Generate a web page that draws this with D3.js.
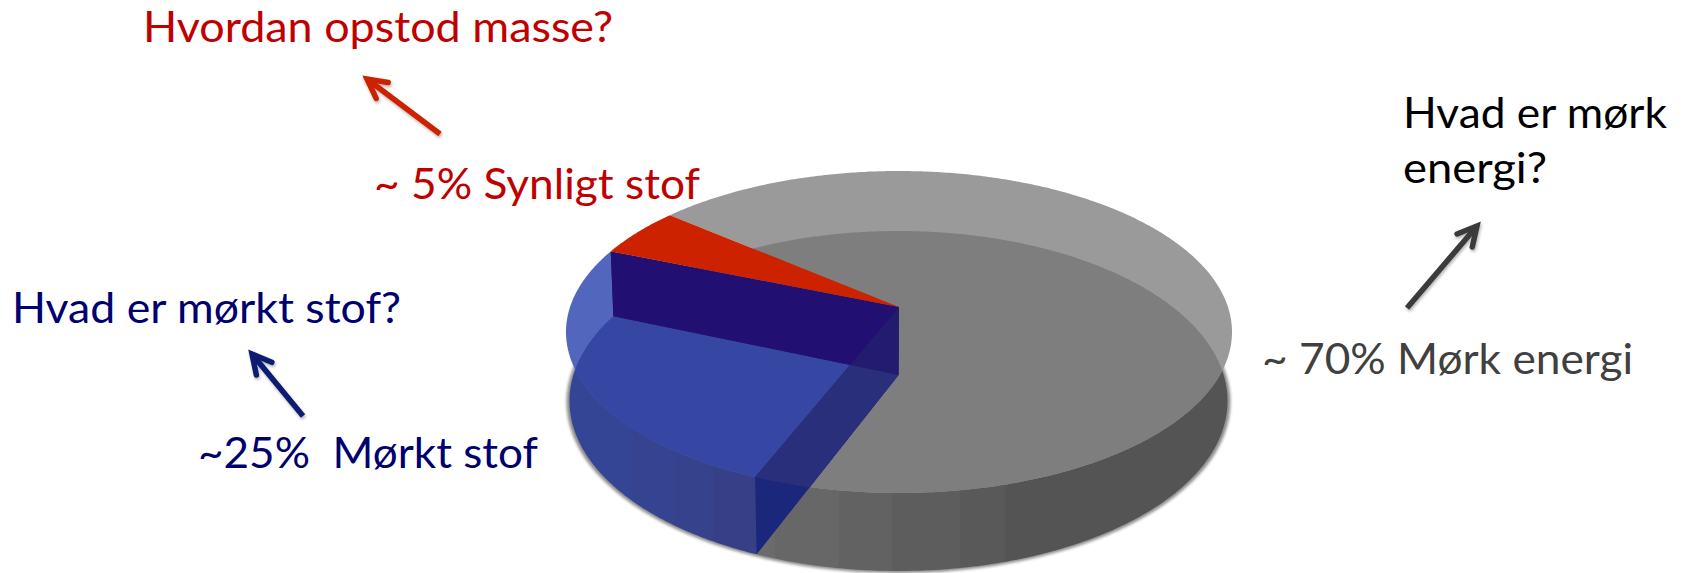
<!DOCTYPE html>
<html lang="da">
<head>
<meta charset="utf-8">
<title>Universets indhold</title>
<script src="https://cdn.jsdelivr.net/npm/d3@7/dist/d3.min.js"></script>
<style>
  html, body { margin: 0; padding: 0; background: #fff; overflow: hidden; }
  svg { display: block; }
  text { font-family: Lato, "Open Sans", sans-serif; }
</style>
</head>
<body>
<script>
// Data: share of the universe's content, in percent
const components = ["Mørkt stof", "Synligt stof", "Mørk energi"];
const shares = [25, 5, 70];

// Captions: text, left edge, baseline, drawn width, colour
const captions = [
  ["Hvordan opstod masse?", 143, 42, 470, "#c00000"],
  ["~ 5% Synligt stof", 374, 199, 326, "#c00000"],
  ["Hvad er mørkt stof?", 12, 323, 389, "#00006e"],
  ["~25%  Mørkt stof", 198, 468, 340, "#00006e"],
  ["Hvad er mørk", 1403, 128, 264, "#000000"],
  ["energi?", 1403, 183, 144, "#000000"],
  ["~ 70% Mørk energi", 1262, 374, 371, "#404040"]
];

// Question arrows: from, to, colour
const arrows = [
  [[440, 134], [367, 79], "#cc2200"],
  [[303, 416], [252, 354], "#0a1a70"],
  [[1407, 308], [1477, 226], "#3a3a3a"]
];

const width = 1683, height = 573;
const svg = d3.select("body").append("svg").attr("width", width).attr("height", height);
const defs = svg.append("defs");

// Rims of the cylinder: top and bottom discs, seen in perspective.
// k shifts the projected disc centre away from the centre of the ellipse.
const topDisc = { cx: 899, cy: 332, rx: 333, ry: 161, k: -25 / 161 };
const baseDisc = { cx: 898.5, cy: 401, rx: 329, ry: 170, k: -26 / 170 };

function project(disc, angle) {
  const X = Math.sin(angle), Y = -Math.cos(angle);
  const w = 1 + disc.k * Y;
  const a = disc.rx * Math.sqrt(1 - disc.k * disc.k);
  return [disc.cx + a * X / w, disc.cy + disc.ry * (Y + disc.k) / w];
}
const centre = disc => [disc.cx, disc.cy + disc.ry * disc.k];

const toRad = d => d * Math.PI / 180;
const slices = d3.pie().sort(null).startAngle(toRad(202)).endAngle(toRad(562))(shares);
const [darkMatter, visible, darkEnergy] = slices;

const line = d3.line();
const rim = (disc, a0, a1) => {
  const n = Math.max(2, Math.ceil(Math.abs(a1 - a0) / 0.01));
  return d3.range(n + 1).map(i => project(disc, a0 + (a1 - a0) * i / n));
};
const wedge = (disc, s) => line([centre(disc), ...rim(disc, s.startAngle, s.endAngle)]) + "Z";
const wholeDisc = disc => line(rim(disc, 0, 2 * Math.PI)) + "Z";

function clip(id, d) {
  defs.append("clipPath").attr("id", id).append("path").attr("d", d);
  return `url(#${id})`;
}

// Stepped horizontal shading on the curved side wall
function bands(id, stops) {
  const g = defs.append("linearGradient").attr("id", id)
    .attr("gradientUnits", "userSpaceOnUse")
    .attr("x1", 0).attr("x2", width).attr("y1", 0).attr("y2", 0);
  stops.forEach(([x0, x1, c]) => {
    g.append("stop").attr("offset", x0 / width).attr("stop-color", c);
    g.append("stop").attr("offset", x1 / width).attr("stop-color", c);
  });
  return `url(#${id})`;
}
const graySide = bands("graySide", [
  [0, 775, "#6b6b6b"], [775, 839, "#676767"], [839, 892, "#626262"],
  [892, 960, "#5d5d5d"], [960, 1005, "#595959"], [1005, width, "#545454"]
]);
const blueSide = bands("blueSide", [
  [0, 633, "#354595"], [633, 675, "#354391"], [675, 713, "#36428c"], [713, width, "#374087"]
]);

const soft = defs.append("filter").attr("id", "soft")
  .attr("x", "-5%").attr("y", "-5%").attr("width", "110%").attr("height", "110%");
soft.append("feGaussianBlur").attr("stdDeviation", 1.6);

const lifted = defs.append("filter").attr("id", "lifted")
  .attr("x", "-30%").attr("y", "-30%").attr("width", "160%").attr("height", "160%");
lifted.append("feDropShadow").attr("dx", 1).attr("dy", 2).attr("stdDeviation", 1.5)
  .attr("flood-color", "#000").attr("flood-opacity", 0.3);

const pie = svg.append("g");

// Soft shadow under the cylinder
pie.append("ellipse")
  .attr("cx", baseDisc.cx).attr("cy", baseDisc.cy + 1)
  .attr("rx", baseDisc.rx + 3).attr("ry", baseDisc.ry + 1)
  .attr("fill", "#000").attr("opacity", 0.45).attr("filter", "url(#soft)");

// Dark energy: side wall, top face, and the see-through floor inside the top face
pie.append("path").attr("d", wedge(baseDisc, darkEnergy)).attr("fill", graySide);
pie.append("path").attr("d", wedge(topDisc, darkEnergy)).attr("fill", "#9a9a9a");
pie.append("path").attr("d", wholeDisc(baseDisc)).attr("fill", "#7e7e7e")
  .attr("clip-path", clip("energyTop", wedge(topDisc, darkEnergy)));

// Dark matter: outer shell, top face and the overlap with the floor
const blueTop = wedge(topDisc, darkMatter);
const blueBase = wedge(baseDisc, darkMatter);
const blueTopClip = clip("blueTop", blueTop);
pie.append("path").attr("d", blueBase).attr("fill", blueSide);
pie.append("path").attr("d", blueTop).attr("fill", "#5366bd");
pie.append("path").attr("d", blueBase).attr("fill", "#3547a3").attr("clip-path", blueTopClip);

// Cut wall on the near edge of the dark matter slice
const T = centre(topDisc), B = centre(baseDisc);
const nearWall = line([T, B, project(baseDisc, darkMatter.startAngle), project(topDisc, darkMatter.startAngle)]) + "Z";
pie.append("path").attr("d", nearWall).attr("fill", "#1b277a");
pie.append("path").attr("d", nearWall).attr("fill", "#2a2f7c")
  .attr("clip-path", clip("topEllipse", wholeDisc(topDisc)));

// Cut wall on the far edge of the slice
const farWall = line([T, project(topDisc, darkMatter.endAngle), project(baseDisc, darkMatter.endAngle), B]) + "Z";
pie.append("path").attr("d", farWall).attr("fill", "#221b6e");
pie.append("path").attr("d", farWall).attr("fill", "#220f72").attr("clip-path", blueTopClip);

// Visible matter: a thin red slice on top
pie.append("path").attr("d", wedge(topDisc, visible)).attr("fill", "#cc2200");

// Arrows from each share to its open question
arrows.forEach(([from, to, colour], i) => {
  const id = `head${i}`;
  defs.append("marker").attr("id", id)
    .attr("markerUnits", "userSpaceOnUse")
    .attr("viewBox", "-26 -16 36 32").attr("markerWidth", 36).attr("markerHeight", 32)
    .attr("refX", 0).attr("refY", 0).attr("orient", "auto")
    .append("path").attr("d", "M-19,-10L0,0L-19,10")
    .attr("fill", "none").attr("stroke", colour).attr("stroke-width", 5.5)
    .attr("stroke-linecap", "round");
  svg.append("path").attr("d", line([from, to]))
    .attr("fill", "none").attr("stroke", colour).attr("stroke-width", 5.5)
    .attr("marker-end", `url(#${id})`).attr("filter", "url(#lifted)");
});

// Captions
svg.selectAll("text.caption").data(captions).join("text")
  .attr("class", "caption")
  .attr("x", d => d[1]).attr("y", d => d[2])
  .attr("textLength", d => d[3]).attr("lengthAdjust", "spacingAndGlyphs")
  .attr("font-size", 42).attr("fill", d => d[4])
  .attr("xml:space", "preserve").style("white-space", "pre")
  .text(d => d[0]);
</script>
</body>
</html>
